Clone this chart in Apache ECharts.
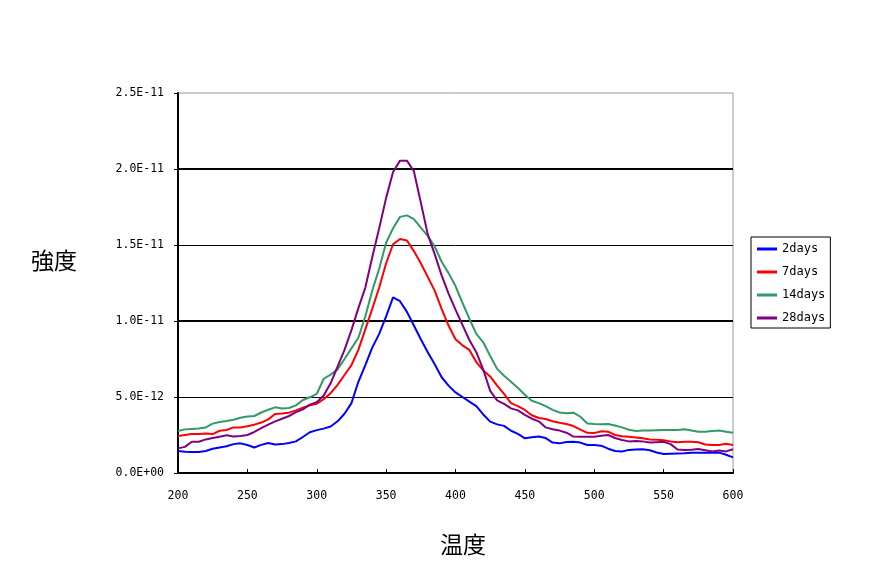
<!DOCTYPE html>
<html><head><meta charset="utf-8">
<script src="https://cdn.jsdelivr.net/npm/echarts@6/dist/echarts.min.js"></script>
<style>html,body{margin:0;padding:0;background:#fff}#c{width:875px;height:584px}</style>
</head><body><div id="c"></div>
<script>
// Temperature (x) values
const temps = [200,205,210,215,220,225,230,235,240,245,250,255,260,265,270,275,280,285,290,295,
300,305,310,315,320,325,330,335,340,345,350,355,360,365,370,375,380,385,390,395,
400,405,410,415,420,425,430,435,440,445,450,455,460,465,470,475,480,485,490,495,
500,505,510,515,520,525,530,535,540,545,550,555,560,565,570,575,580,585,590,595,600];
// Intensities in units of 1E-12
const days2 = [1.45,1.40,1.38,1.38,1.45,1.60,1.68,1.76,1.90,1.95,1.84,1.68,1.85,1.97,1.88,1.90,1.97,2.08,2.37,2.68,
2.82,2.92,3.06,3.40,3.90,4.60,6.00,7.10,8.25,9.15,10.3,11.55,11.3,10.6,9.7,8.8,7.95,7.15,6.3,5.75,
5.3,5.0,4.7,4.4,3.85,3.38,3.2,3.1,2.78,2.57,2.28,2.35,2.4,2.3,2.0,1.95,2.04,2.05,2.0,1.84,
1.84,1.80,1.60,1.45,1.42,1.52,1.55,1.56,1.50,1.35,1.25,1.27,1.29,1.30,1.33,1.34,1.34,1.33,1.34,1.20,1.03];
const days7 = [2.43,2.50,2.56,2.57,2.60,2.56,2.78,2.83,3.0,3.0,3.08,3.18,3.32,3.53,3.88,3.92,3.97,4.12,4.3,4.45,
4.56,4.85,5.25,5.8,6.45,7.1,8.1,9.45,10.8,12.2,13.8,15.05,15.4,15.3,14.6,13.8,12.9,12.0,10.8,9.7,
8.8,8.4,8.1,7.3,6.75,6.35,5.75,5.2,4.6,4.4,4.15,3.8,3.62,3.55,3.4,3.31,3.22,3.09,2.85,2.64,
2.63,2.74,2.72,2.5,2.42,2.38,2.33,2.28,2.21,2.18,2.15,2.08,2.03,2.06,2.06,2.02,1.88,1.84,1.84,1.92,1.84];
const days14 = [2.76,2.87,2.90,2.93,3.0,3.25,3.36,3.42,3.5,3.64,3.72,3.75,3.98,4.16,4.32,4.25,4.28,4.45,4.8,4.98,
5.2,6.2,6.47,6.82,7.5,8.2,8.9,10.3,12.0,13.45,15.15,16.1,16.85,16.95,16.7,16.15,15.6,14.9,13.9,13.15,
12.3,11.2,10.15,9.15,8.6,7.7,6.85,6.4,6.0,5.6,5.15,4.75,4.6,4.4,4.15,3.98,3.93,3.97,3.7,3.26,
3.22,3.2,3.22,3.12,3.0,2.85,2.77,2.79,2.80,2.82,2.83,2.83,2.83,2.88,2.8,2.72,2.72,2.76,2.79,2.72,2.65];
const days28 = [1.62,1.72,2.06,2.06,2.21,2.3,2.39,2.48,2.4,2.43,2.5,2.7,2.95,3.18,3.4,3.57,3.75,4.0,4.19,4.5,
4.66,5.1,5.9,7.0,8.1,9.4,10.85,12.2,14.2,16.1,18.1,19.8,20.55,20.55,19.85,17.8,15.7,14.4,13.0,11.8,
10.75,9.75,8.75,7.95,6.8,5.4,4.78,4.55,4.25,4.12,3.83,3.57,3.4,3.0,2.88,2.79,2.65,2.4,2.39,2.39,
2.39,2.45,2.5,2.3,2.17,2.08,2.1,2.08,2.0,2.03,2.06,1.9,1.55,1.51,1.53,1.58,1.5,1.42,1.48,1.42,1.56];
const UNIT = 1e-12;
const seriesNames = ['2days','7days','14days','28days'];
const seriesColors = ['#0000FF','#FF0000','#339966','#800080'];
const xTickLabels = ['200','250','300','350','400','450','500','550','600'];
const yTickLabels = ['0.0E+00','5.0E-12','1.0E-11','1.5E-11','2.0E-11','2.5E-11'];
const xName = '温度';
const yName = '強度';

const allVals = [days2, days7, days14, days28];
const chart = echarts.init(document.getElementById('c'), null, {renderer:'canvas'});
const labelFont = {fontFamily:'DejaVu Sans Mono', fontSize:11.5, color:'#000'};
const series = allVals.map((vals, k) => ({
  name: seriesNames[k], type:'line', showSymbol:false, symbol:'none', z:3,
  lineStyle:{color:seriesColors[k], width:2}, itemStyle:{color:seriesColors[k]},
  data: temps.map((t,i)=>[t, vals[i]*UNIT]), animation:false
}));
chart.setOption({
  animation:false,
  backgroundColor:'#fff',
  grid:{left:178, top:93, width:555, height:380, show:true, borderColor:'#999', borderWidth:1, backgroundColor:'transparent'},
  xAxis:{type:'value', min:200, max:600, interval:50,
    axisLine:{show:true, onZero:false, lineStyle:{color:'#000', width:2}},
    axisTick:{show:true, inside:true, length:4, lineStyle:{color:'#000', width:1}},
    axisLabel:Object.assign({margin:17, formatter:v=>xTickLabels[Math.round((v-200)/50)]}, labelFont),
    splitLine:{show:false}},
  yAxis:[
    {type:'value', min:0, max:2.5e-11, interval:5e-12, z:2,
      axisLine:{show:true, lineStyle:{color:'#000', width:2}},
      axisTick:{show:true, inside:false, length:4, lineStyle:{color:'#000', width:1}},
      axisLabel:Object.assign({margin:14, formatter:v=>yTickLabels[Math.round(v/5e-12)]}, labelFont),
      splitLine:{show:true, lineStyle:{width:1, color:['rgba(0,0,0,0)','#000','#000','#000','#000','rgba(0,0,0,0)']}}},
    {type:'value', min:0, max:2.5e-11, interval:1e-11, position:'left', z:1,
      axisLine:{show:false}, axisTick:{show:false}, axisLabel:{show:false},
      splitLine:{show:true, lineStyle:{width:2, color:['rgba(0,0,0,0)','#000','#000','rgba(0,0,0,0)']}}}
  ],
  legend:{data:seriesNames, orient:'vertical', left:751, top:237, padding:[5,5,3,6],
    itemGap:9, itemWidth:20, itemHeight:3, icon:'rect',
    borderColor:'#000', borderWidth:1, backgroundColor:'#fff',
    textStyle:{fontFamily:'DejaVu Sans Mono', fontSize:12, color:'#000', lineHeight:14}},
  graphic:[
    {type:'text', left:31, top:249, style:{text:yName, font:'23px "Noto Sans CJK JP"', fill:'#000'}},
    {type:'text', left:440, top:533, style:{text:xName, font:'23px "Noto Sans CJK JP"', fill:'#000'}}
  ],
  series: series
});
</script></body></html>
